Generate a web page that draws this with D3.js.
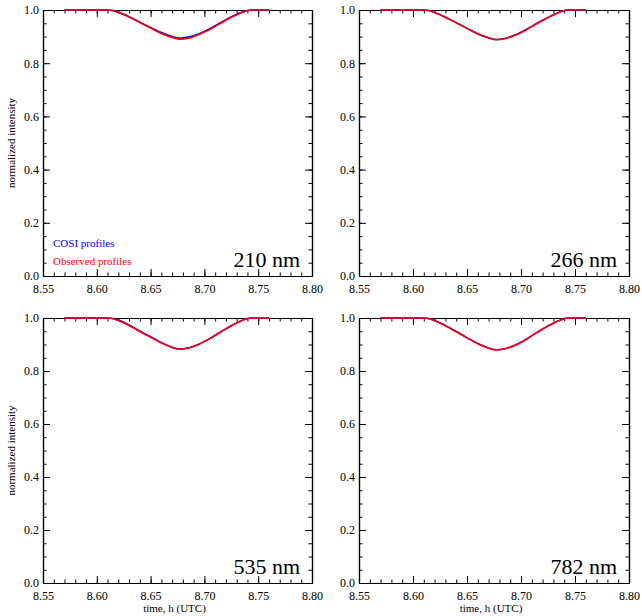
<!DOCTYPE html>
<html>
<head>
<meta charset="utf-8">
<script src="https://cdn.jsdelivr.net/npm/d3@7"></script>
<style>
  body { margin: 0; background: #fff; }
  text { font-family: "Liberation Serif", "Times New Roman", serif; }
</style>
</head>
<body>
<div class="chart"></div>
<script>
// time axis (h, UTC), shared by all profiles
const times = [8.570, 8.590, 8.611, 8.620, 8.630, 8.640, 8.650, 8.660, 8.670, 8.677,
               8.685, 8.695, 8.705, 8.715, 8.725, 8.735, 8.743, 8.750, 8.760]

const cosi_210 = [1, 1, 1, 0.992, 0.975, 0.954, 0.934, 0.915, 0.900, 0.894, 0.898, 0.911, 0.930, 0.952, 0.974, 0.992, 1, 1, 1]
const obs_210  = [1, 1, 1, 0.991, 0.974, 0.953, 0.932, 0.912, 0.897, 0.890, 0.894, 0.908, 0.927, 0.950, 0.973, 0.991, 1, 1, 1]
const cosi_266 = [1, 1, 1, 0.991, 0.973, 0.952, 0.931, 0.911, 0.896, 0.889, 0.893, 0.907, 0.927, 0.950, 0.972, 0.991, 1, 1, 1]
const obs_266  = [1, 1, 1, 0.991, 0.973, 0.952, 0.931, 0.910, 0.895, 0.888, 0.892, 0.906, 0.926, 0.950, 0.972, 0.991, 1, 1, 1]
const cosi_535 = [1, 1, 1, 0.992, 0.974, 0.951, 0.929, 0.907, 0.890, 0.883, 0.887, 0.901, 0.922, 0.947, 0.971, 0.991, 1, 1, 1]
const obs_535  = [1, 1, 1, 0.991, 0.972, 0.949, 0.927, 0.906, 0.889, 0.882, 0.887, 0.901, 0.922, 0.947, 0.971, 0.991, 1, 1, 1]
const cosi_782 = [1, 1, 1, 0.991, 0.972, 0.949, 0.926, 0.904, 0.887, 0.880, 0.884, 0.898, 0.920, 0.946, 0.970, 0.990, 1, 1, 1]
const obs_782  = [1, 1, 1, 0.990, 0.971, 0.948, 0.925, 0.903, 0.886, 0.879, 0.884, 0.898, 0.920, 0.946, 0.970, 0.990, 1, 1, 1]

const wavelengths = ["210 nm", "266 nm", "535 nm", "782 nm"]
const x_ticks = [8.55, 8.60, 8.65, 8.70, 8.75, 8.80]
const y_ticks = [0.0, 0.2, 0.4, 0.6, 0.8, 1.0]
const legend_labels = ["COSI profiles", "Observed profiles"]

const width = 642;
const height = 616;
const svg = d3.select(".chart").append("svg").attr("width", width).attr("height", height)

const panels = [
    {left: 43, top: 10, w: 269, h: 266, cosi: cosi_210, obs: obs_210, label: wavelengths[0], ylab: true, xlab: false, legend: true},
    {left: 359, top: 10, w: 270, h: 266, cosi: cosi_266, obs: obs_266, label: wavelengths[1], ylab: false, xlab: false, legend: false},
    {left: 43, top: 318, w: 269, h: 265, cosi: cosi_535, obs: obs_535, label: wavelengths[2], ylab: true, xlab: true, legend: false},
    {left: 359, top: 318, w: 270, h: 265, cosi: cosi_782, obs: obs_782, label: wavelengths[3], ylab: false, xlab: true, legend: false}
]

const x_minor = d3.range(0, 26).map(i => 8.55 + i * 0.01)
const y_minor = d3.range(0, 21).map(i => i * 0.05)
const serif = '"Liberation Serif", "Times New Roman", serif'

panels.forEach(p => {
    const g = svg.append("g").attr("transform", 'translate(' + p.left + ',' + p.top + ')')
    const x_scale = d3.scaleLinear().domain([8.55, 8.80]).range([0, p.w]);
    const y_scale = d3.scaleLinear().domain([0, 1]).range([p.h, 0]);

    // minor ticks on all four sides
    g.append("g").attr("transform", 'translate(0,' + p.h + ')')
        .call(d3.axisBottom(x_scale).tickValues(x_minor).tickSize(-3.5).tickSizeOuter(0).tickFormat(""))
    g.append("g").call(d3.axisTop(x_scale).tickValues(x_minor).tickSize(-3.5).tickSizeOuter(0).tickFormat(""))
    g.append("g").call(d3.axisLeft(y_scale).tickValues(y_minor).tickSize(-3.5).tickSizeOuter(0).tickFormat(""))
    g.append("g").attr("transform", 'translate(' + p.w + ',0)')
        .call(d3.axisRight(y_scale).tickValues(y_minor).tickSize(-3.5).tickSizeOuter(0).tickFormat(""))

    // major ticks + labels
    g.append("g").attr("class", "lab").attr("transform", 'translate(0,' + p.h + ')')
        .call(d3.axisBottom(x_scale).tickValues(x_ticks).tickSize(-7).tickSizeOuter(0).tickPadding(8).tickFormat(d3.format(".2f")))
    g.append("g").call(d3.axisTop(x_scale).tickValues(x_ticks).tickSize(-7).tickSizeOuter(0).tickFormat(""))
    g.append("g").attr("class", "lab")
        .call(d3.axisLeft(y_scale).tickValues(y_ticks).tickSize(-7).tickSizeOuter(0).tickPadding(4).tickFormat(d3.format(".1f")))
    g.append("g").attr("transform", 'translate(' + p.w + ',0)')
        .call(d3.axisRight(y_scale).tickValues(y_ticks).tickSize(-7).tickSizeOuter(0).tickFormat(""))

    g.selectAll(".domain").attr("stroke", "#000").attr("stroke-width", 1.2)
    g.selectAll(".tick line").attr("stroke", "#000")
    g.selectAll(".lab").attr("font-family", serif).attr("font-size", 12)
    g.selectAll(".lab text").attr("fill", "#000").style("font-family", serif).style("font-size", "12px")

    const line = d3.line()
        .x((d, i) => x_scale(times[i]))
        .y(d => y_scale(d))
        .curve(d3.curveMonotoneX)

    g.append("path").attr("d", line(p.cosi)).attr("fill", "none")
        .attr("stroke", "#0000ff").attr("stroke-width", 1.6)
    g.append("path").attr("d", line(p.obs)).attr("fill", "none")
        .attr("stroke", "#ff0000").attr("stroke-width", 1.6)

    g.append("text").attr("x", p.w - 12).attr("y", p.h - 9)
        .attr("text-anchor", "end").attr("font-size", 22).text(p.label)

    if (p.legend) {
        g.append("text").attr("x", 10).attr("y", 237).attr("font-size", 11)
            .attr("fill", "#0000ff").text(legend_labels[0])
        g.append("text").attr("x", 10).attr("y", 255).attr("font-size", 11)
            .attr("fill", "#ff0000").text(legend_labels[1])
    }
    if (p.ylab) {
        g.append("text").attr("transform", 'translate(-28,' + (p.h / 2) + ') rotate(-90)')
            .attr("text-anchor", "middle").attr("font-size", 11).text("normalized intensity")
    }
    if (p.xlab) {
        g.append("text").attr("x", p.w / 2 - 3).attr("y", p.h + 29)
            .attr("text-anchor", "middle").attr("font-size", 11).text("time, h (UTC)")
    }
})
</script>
</body>
</html>
